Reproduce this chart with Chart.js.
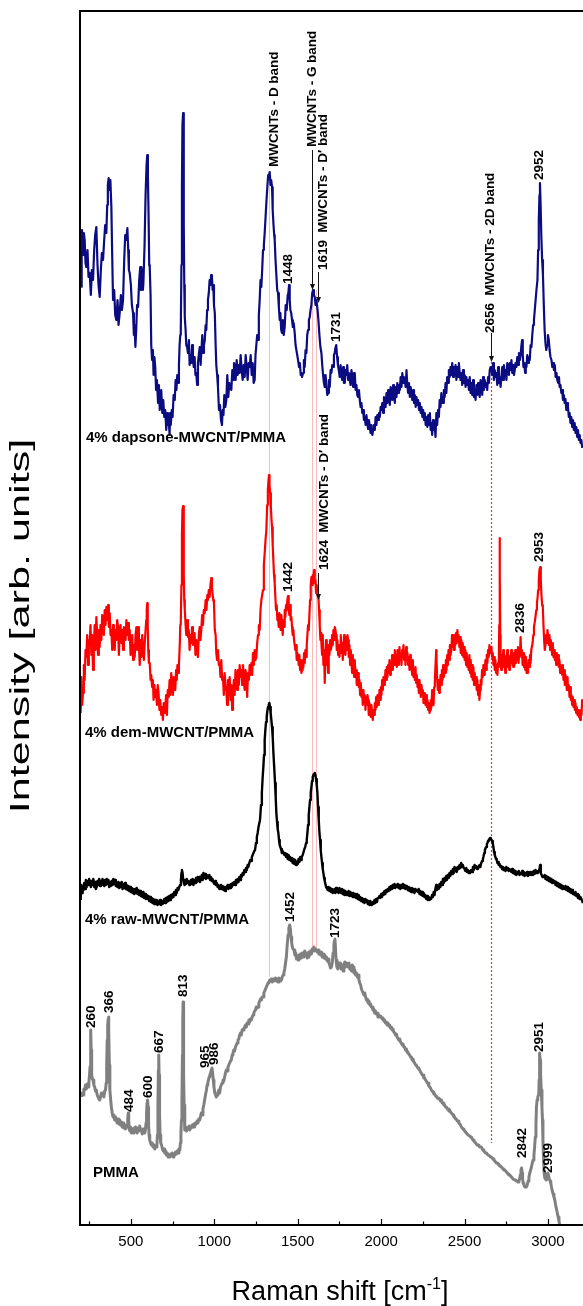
<!DOCTYPE html>
<html>
<head>
<meta charset="utf-8">
<script src="https://cdn.jsdelivr.net/npm/chart.js@4/dist/chart.umd.min.js"></script>
<style>
  html, body { margin: 0; padding: 0; background: #fff; overflow: hidden; }
  canvas { display: block; }
</style>
</head>
<body>
<canvas id="raman" width="583" height="1306"></canvas>
<script>
// Raman spectra, [shift in cm-1, intensity in arb. units]; traces are stacked with offsets.
const dapsoneSpectrum = [[203,938],[205,990],[207,995],[213,970],[218,992],[223,985],[228,962],[233,958],[240,975],[246,948],[253,952],[260,930],[266,955],[273,945],[280,975],[286,990],[293,998],[300,960],[306,940],[313,928],[320,955],[326,972],[333,965],[340,985],[346,1000],[353,992],[358,1020],[362,1040],[367,1047],[372,1035],[377,1045],[383,1018],[388,970],[393,925],[400,935],[406,910],[413,905],[420,925],[426,900],[433,912],[440,930],[446,915],[453,925],[460,965],[466,990],[472,985],[479,997],[484,975],[488,955],[493,952],[500,940],[506,920],[513,912],[518,890],[522,900],[527,878],[532,895],[537,920],[543,918],[550,945],[556,958],[560,935],[563,958],[568,950],[572,935],[575,942],[582,980],[588,1030],[594,1060],[598,1070],[602,1050],[606,1010],[610,960],[613,958],[618,930],[622,880],[627,865],[632,875],[636,850],[641,868],[646,858],[651,835],[656,845],[663,822],[668,840],[673,815],[678,828],[682,835],[688,812],[694,825],[700,808],[706,815],[712,795],[718,812],[722,800],[727,805],[732,790],[735,812],[739,800],[745,815],[750,808],[756,830],[763,825],[768,845],[773,835],[778,850],[783,842],[788,860],[792,880],[796,890],[799,892],[803,960],[806,1040],[809,1100],[813,1112],[816,1080],[818,1000],[820,940],[823,908],[828,895],[832,880],[837,878],[842,872],[848,885],[852,860],[857,870],[862,862],[867,880],[872,865],[877,858],[882,868],[887,850],[892,852],[897,840],[902,862],[907,870],[913,878],[918,860],[923,875],[928,890],[933,872],[938,880],[943,885],[948,900],[952,895],[957,915],[962,925],[967,932],[972,945],[977,940],[981,950],[986,948],[990,935],[994,940],[998,920],[1003,912],[1008,880],[1012,860],[1017,850],[1022,838],[1028,815],[1034,820],[1040,805],[1046,800],[1050,815],[1055,810],[1060,830],[1066,818],[1072,825],[1078,850],[1084,828],[1090,842],[1096,838],[1102,835],[1108,855],[1114,845],[1118,862],[1122,858],[1128,845],[1134,865],[1140,850],[1146,860],[1152,852],[1158,870],[1164,855],[1170,845],[1176,860],[1182,848],[1188,870],[1194,858],[1200,845],[1206,862],[1212,858],[1218,870],[1224,850],[1230,862],[1236,842],[1242,845],[1247,870],[1252,880],[1257,890],[1262,885],[1267,910],[1272,925],[1277,945],[1282,938],[1287,955],[1292,975],[1297,980],[1302,992],[1308,1010],[1313,1025],[1318,1038],[1323,1050],[1327,1048],[1332,1053],[1337,1040],[1341,1045],[1346,1038],[1350,1015],[1355,1000],[1359,990],[1362,985],[1367,965],[1372,950],[1377,935],[1382,932],[1387,918],[1392,905],[1396,912],[1401,895],[1406,892],[1411,905],[1416,890],[1422,898],[1428,920],[1434,915],[1440,930],[1444,932],[1448,940],[1452,925],[1456,915],[1461,912],[1466,905],[1471,898],[1476,902],[1482,892],[1487,880],[1492,875],[1497,870],[1502,865],[1508,858],[1513,862],[1518,850],[1522,852],[1526,848],[1532,852],[1537,865],[1542,858],[1547,875],[1552,872],[1557,890],[1562,895],[1567,905],[1572,908],[1577,915],[1582,920],[1587,932],[1592,935],[1597,930],[1602,928],[1607,920],[1612,925],[1619,915],[1624,905],[1630,890],[1636,878],[1642,872],[1647,860],[1652,850],[1657,842],[1662,838],[1667,850],[1672,840],[1677,830],[1682,832],[1687,845],[1692,838],[1697,855],[1702,852],[1707,860],[1712,858],[1717,870],[1722,872],[1726,877],[1731,880],[1736,868],[1741,860],[1746,855],[1752,848],[1757,860],[1762,850],[1767,845],[1772,858],[1777,842],[1782,842],[1787,855],[1792,850],[1797,860],[1802,845],[1807,852],[1812,845],[1817,840],[1822,855],[1827,848],[1832,838],[1837,852],[1842,852],[1847,835],[1852,840],[1857,830],[1862,828],[1867,835],[1872,825],[1877,818],[1882,822],[1887,812],[1892,815],[1897,805],[1902,808],[1907,800],[1912,810],[1917,802],[1922,796],[1927,805],[1932,798],[1937,792],[1942,800],[1947,790],[1952,795],[1957,800],[1962,795],[1967,808],[1972,800],[1977,810],[1982,805],[1987,812],[1992,808],[1997,818],[2002,815],[2007,822],[2012,812],[2017,828],[2022,825],[2027,818],[2032,832],[2037,822],[2042,835],[2047,828],[2052,820],[2057,838],[2062,832],[2067,825],[2072,840],[2077,830],[2082,822],[2087,838],[2092,828],[2097,842],[2102,832],[2107,840],[2112,835],[2117,848],[2122,838],[2127,852],[2132,842],[2137,848],[2142,845],[2147,838],[2152,855],[2157,840],[2162,832],[2167,842],[2172,828],[2177,838],[2182,832],[2187,825],[2192,835],[2197,822],[2202,830],[2207,818],[2212,828],[2217,820],[2222,825],[2227,815],[2232,822],[2237,812],[2242,818],[2247,808],[2252,815],[2257,805],[2262,812],[2267,800],[2272,808],[2277,798],[2282,810],[2287,800],[2292,812],[2297,795],[2301,802],[2306,790],[2311,805],[2316,795],[2322,798],[2326,788],[2331,812],[2336,800],[2341,815],[2346,808],[2351,825],[2356,818],[2361,832],[2366,822],[2371,822],[2376,835],[2381,828],[2386,842],[2391,832],[2396,848],[2401,842],[2406,855],[2411,848],[2416,858],[2421,850],[2426,862],[2431,848],[2436,858],[2441,852],[2446,860],[2451,845],[2456,858],[2461,848],[2466,862],[2471,852],[2476,845],[2481,852],[2486,840],[2491,855],[2496,842],[2501,850],[2506,838],[2511,848],[2516,840],[2521,845],[2526,835],[2531,848],[2536,832],[2541,842],[2546,830],[2551,845],[2556,828],[2561,835],[2566,825],[2571,840],[2576,830],[2581,842],[2586,835],[2591,828],[2596,845],[2601,838],[2606,830],[2611,848],[2616,835],[2621,845],[2626,838],[2631,842],[2636,835],[2641,848],[2646,842],[2651,855],[2656,858],[2661,858],[2666,850],[2671,862],[2676,845],[2681,855],[2686,848],[2691,852],[2696,840],[2701,858],[2706,842],[2711,848],[2716,838],[2721,848],[2726,858],[2731,845],[2736,860],[2741,850],[2746,855],[2751,845],[2756,862],[2761,858],[2766,850],[2771,862],[2776,855],[2781,865],[2786,852],[2791,860],[2796,850],[2801,855],[2806,862],[2811,858],[2816,868],[2821,860],[2826,872],[2831,865],[2836,870],[2840,878],[2845,885],[2849,870],[2853,858],[2858,862],[2863,852],[2867,862],[2871,858],[2876,870],[2881,862],[2886,868],[2891,865],[2896,880],[2901,878],[2906,890],[2911,900],[2916,905],[2921,915],[2926,925],[2931,935],[2937,945],[2941,975],[2945,1005],[2949,1030],[2952,1042],[2956,1020],[2960,990],[2965,965],[2970,950],[2975,920],[2980,895],[2985,882],[2990,875],[2995,880],[3000,890],[3005,885],[3010,875],[3015,868],[3021,865],[3026,858],[3031,862],[3036,855],[3041,860],[3046,848],[3051,852],[3056,845],[3061,842],[3066,848],[3070,838],[3075,840],[3080,832],[3085,835],[3090,825],[3095,830],[3100,822],[3105,826],[3110,815],[3115,822],[3120,818],[3125,808],[3130,812],[3135,802],[3140,808],[3145,798],[3150,805],[3155,795],[3160,802],[3165,792],[3170,798],[3175,788],[3180,795],[3185,785],[3190,790],[3195,782],[3200,785],[3205,778],[3210,780],[3215,775]];

const demSpectrum = [[199,512],[203,548],[208,520],[213,532],[218,560],[223,545],[228,575],[233,568],[238,590],[243,560],[248,585],[253,582],[258,600],[263,570],[268,590],[273,555],[278,580],[283,600],[288,575],[293,608],[298,590],[303,570],[308,595],[313,578],[318,600],[323,585],[328,610],[333,605],[338,590],[343,615],[348,600],[353,618],[358,605],[363,620],[368,598],[373,612],[378,590],[383,595],[388,575],[393,600],[398,580],[403,575],[408,595],[413,585],[418,605],[423,598],[428,570],[433,590],[438,600],[443,582],[448,595],[453,575],[458,598],[463,595],[468,585],[473,605],[478,590],[483,602],[488,585],[493,595],[498,570],[503,578],[508,590],[513,565],[518,580],[523,568],[528,590],[533,598],[538,575],[543,598],[548,580],[553,560],[558,585],[563,568],[568,590],[573,575],[578,565],[583,582],[588,595],[592,605],[595,615],[598,622],[601,600],[604,575],[608,562],[613,562],[618,545],[622,550],[627,538],[632,545],[636,525],[641,540],[646,528],[651,535],[656,520],[661,540],[666,532],[671,515],[676,525],[682,510],[687,518],[692,505],[697,522],[702,512],[706,517],[711,530],[716,510],[721,535],[727,528],[732,545],[737,530],[742,552],[747,542],[752,530],[757,548],[762,535],[766,535],[771,555],[775,545],[779,560],[783,552],[788,560],[793,580],[796,600],[799,602],[803,640],[806,690],[809,715],[813,719],[816,690],[818,650],[820,625],[823,615],[828,600],[832,590],[837,605],[842,588],[847,595],[852,575],[857,590],[862,582],[867,598],[872,580],[877,592],[882,592],[887,570],[892,585],[897,575],[902,568],[907,590],[912,598],[917,585],[922,595],[927,610],[932,600],[937,615],[943,612],[948,625],[953,615],[958,630],[962,625],[967,635],[972,628],[977,640],[982,647],[986,638],[990,630],[994,625],[998,622],[1003,595],[1008,590],[1012,572],[1017,565],[1022,575],[1027,560],[1032,562],[1037,548],[1042,565],[1047,545],[1052,548],[1057,530],[1062,552],[1067,540],[1072,535],[1077,520],[1082,545],[1087,530],[1092,548],[1097,525],[1102,540],[1107,515],[1112,528],[1117,545],[1122,530],[1127,555],[1132,548],[1137,535],[1142,555],[1147,540],[1152,560],[1157,548],[1162,555],[1167,540],[1172,560],[1177,545],[1182,535],[1187,555],[1192,548],[1197,528],[1202,552],[1207,545],[1212,560],[1217,550],[1222,562],[1227,550],[1232,572],[1237,560],[1242,575],[1247,565],[1252,568],[1257,582],[1262,590],[1267,600],[1272,595],[1277,615],[1282,625],[1287,630],[1292,635],[1297,660],[1302,672],[1307,685],[1312,695],[1317,720],[1321,735],[1325,745],[1328,750],[1331,740],[1335,732],[1339,718],[1343,705],[1346,698],[1350,680],[1354,665],[1358,650],[1362,642],[1366,628],[1370,615],[1374,620],[1378,605],[1382,608],[1386,598],[1390,612],[1394,600],[1398,595],[1402,610],[1406,602],[1410,590],[1414,605],[1418,598],[1422,615],[1426,608],[1430,620],[1434,615],[1438,625],[1442,629],[1446,615],[1450,610],[1454,620],[1458,605],[1462,608],[1466,598],[1470,590],[1474,595],[1478,585],[1482,585],[1486,575],[1490,580],[1494,565],[1498,572],[1502,568],[1506,560],[1510,570],[1514,555],[1518,565],[1522,552],[1526,555],[1530,565],[1534,558],[1538,572],[1542,562],[1546,575],[1550,568],[1554,580],[1558,590],[1562,600],[1566,595],[1570,610],[1574,625],[1578,640],[1582,648],[1586,640],[1590,650],[1594,645],[1598,655],[1602,642],[1606,645],[1610,632],[1614,640],[1619,630],[1624,628],[1628,615],[1632,600],[1636,585],[1640,592],[1642,582],[1646,570],[1650,590],[1654,560],[1658,575],[1662,542],[1666,570],[1670,585],[1674,560],[1678,575],[1682,552],[1686,580],[1690,570],[1694,585],[1698,575],[1702,578],[1706,590],[1710,580],[1714,595],[1718,585],[1722,598],[1726,595],[1730,590],[1734,575],[1738,585],[1742,570],[1746,580],[1750,568],[1754,575],[1758,590],[1762,572],[1766,582],[1770,565],[1774,578],[1778,590],[1782,578],[1786,570],[1790,588],[1794,575],[1798,590],[1802,585],[1806,568],[1810,580],[1814,560],[1818,575],[1822,565],[1826,552],[1830,570],[1834,560],[1838,548],[1842,565],[1846,550],[1850,555],[1854,540],[1858,552],[1862,552],[1866,538],[1870,545],[1874,530],[1878,542],[1882,528],[1886,535],[1890,520],[1894,535],[1898,525],[1902,530],[1906,515],[1910,528],[1914,520],[1918,530],[1922,525],[1926,510],[1930,522],[1934,515],[1938,508],[1942,520],[1946,512],[1950,505],[1954,515],[1958,510],[1962,522],[1966,515],[1970,528],[1974,518],[1978,530],[1982,525],[1986,520],[1990,535],[1994,525],[1998,538],[2002,530],[2006,545],[2010,535],[2014,548],[2018,540],[2022,542],[2026,555],[2030,545],[2034,558],[2038,548],[2042,560],[2046,552],[2050,565],[2054,550],[2058,562],[2062,558],[2066,570],[2070,555],[2074,568],[2078,560],[2082,575],[2086,562],[2090,570],[2094,558],[2098,575],[2102,568],[2106,560],[2110,578],[2114,565],[2118,572],[2122,560],[2126,575],[2130,568],[2134,580],[2138,565],[2142,572],[2146,560],[2150,578],[2154,565],[2158,572],[2162,560],[2166,568],[2170,555],[2174,570],[2178,558],[2182,558],[2186,550],[2190,565],[2194,548],[2198,555],[2202,545],[2206,558],[2210,542],[2214,550],[2218,538],[2222,545],[2226,532],[2230,545],[2234,535],[2238,528],[2242,540],[2246,530],[2250,535],[2254,522],[2258,532],[2262,528],[2266,520],[2270,530],[2274,518],[2278,525],[2282,515],[2286,522],[2290,512],[2294,515],[2298,525],[2302,518],[2306,535],[2310,528],[2314,520],[2318,538],[2322,545],[2326,560],[2330,575],[2332,565],[2336,545],[2340,535],[2344,545],[2348,532],[2352,538],[2356,550],[2360,540],[2364,555],[2368,545],[2372,560],[2376,548],[2380,555],[2384,552],[2388,565],[2392,555],[2396,570],[2400,560],[2404,575],[2408,565],[2412,580],[2416,570],[2421,575],[2425,590],[2429,578],[2433,588],[2437,575],[2441,590],[2445,580],[2449,592],[2453,582],[2457,595],[2461,585],[2465,590],[2469,578],[2473,588],[2477,572],[2481,585],[2485,570],[2489,582],[2493,568],[2497,578],[2501,565],[2505,575],[2509,560],[2513,572],[2517,558],[2521,562],[2525,555],[2529,570],[2533,552],[2537,565],[2541,548],[2545,560],[2549,545],[2553,558],[2557,540],[2561,552],[2565,540],[2569,548],[2573,535],[2577,545],[2581,530],[2585,540],[2589,525],[2593,535],[2597,545],[2601,540],[2605,555],[2609,548],[2613,560],[2617,550],[2621,552],[2625,565],[2629,555],[2633,570],[2637,562],[2641,575],[2645,568],[2649,580],[2653,572],[2657,575],[2661,578],[2665,568],[2669,572],[2673,560],[2677,568],[2681,555],[2685,565],[2689,552],[2693,560],[2697,550],[2701,562],[2705,558],[2708,600],[2710,687],[2712,650],[2714,590],[2716,565],[2720,555],[2724,570],[2728,560],[2732,575],[2736,558],[2740,570],[2744,552],[2748,568],[2752,560],[2756,575],[2760,558],[2764,570],[2768,555],[2772,568],[2776,560],[2780,575],[2784,562],[2788,570],[2792,558],[2796,572],[2800,560],[2804,575],[2808,562],[2812,572],[2816,565],[2820,578],[2824,562],[2828,575],[2832,570],[2836,588],[2840,568],[2844,575],[2848,560],[2852,572],[2856,558],[2860,570],[2864,555],[2868,568],[2872,552],[2876,560],[2880,552],[2884,565],[2888,558],[2892,570],[2896,562],[2900,575],[2904,575],[2908,582],[2912,590],[2916,598],[2920,602],[2925,608],[2930,615],[2934,622],[2938,628],[2941,635],[2945,645],[2949,655],[2953,658],[2957,645],[2961,630],[2965,620],[2969,618],[2973,600],[2977,585],[2981,575],[2985,580],[2989,590],[2993,582],[2997,595],[3001,588],[3005,580],[3009,590],[3013,575],[3017,585],[3021,578],[3025,570],[3029,582],[3033,568],[3037,575],[3041,565],[3045,572],[3049,560],[3053,572],[3057,565],[3061,570],[3065,558],[3069,565],[3073,552],[3077,560],[3081,558],[3085,550],[3089,560],[3093,545],[3097,555],[3101,540],[3105,550],[3109,545],[3113,535],[3117,548],[3121,535],[3125,540],[3129,528],[3133,538],[3137,525],[3141,530],[3145,520],[3149,528],[3153,518],[3157,525],[3161,515],[3165,522],[3169,512],[3173,518],[3177,510],[3181,515],[3185,508],[3189,512],[3193,505],[3197,515],[3201,510],[3205,525],[3210,525]];

const rawSpectrum = [[199,325],[203,340],[207,332],[211,338],[215,335],[220,342],[225,336],[230,345],[235,338],[240,344],[245,340],[250,346],[255,342],[260,338],[265,344],[270,340],[275,346],[280,338],[285,343],[290,336],[295,338],[300,344],[305,340],[310,346],[315,339],[320,344],[325,340],[330,346],[335,343],[340,339],[345,345],[350,340],[355,346],[360,341],[365,345],[370,338],[375,343],[380,339],[385,344],[390,340],[395,346],[400,341],[405,345],[410,339],[415,342],[420,338],[425,343],[430,337],[435,342],[440,338],[445,343],[450,336],[455,341],[460,337],[465,342],[470,336],[475,340],[480,335],[485,339],[490,334],[495,338],[500,333],[505,337],[510,332],[515,336],[520,331],[525,336],[530,332],[535,337],[540,331],[545,335],[550,330],[555,334],[560,329],[565,333],[570,328],[575,333],[580,327],[585,331],[590,326],[595,330],[600,326],[605,329],[610,324],[615,328],[620,323],[625,327],[630,322],[635,326],[640,321],[645,325],[650,321],[655,325],[660,320],[665,324],[670,321],[675,325],[680,320],[685,324],[690,321],[694,323],[700,326],[705,322],[710,327],[715,323],[720,328],[725,324],[730,329],[735,325],[740,330],[745,327],[750,331],[755,328],[760,333],[765,330],[770,335],[775,332],[780,337],[784,335],[790,338],[795,340],[800,345],[803,352],[806,355],[810,352],[814,345],[818,342],[822,340],[826,345],[830,341],[835,346],[840,342],[845,344],[850,340],[854,342],[860,345],[865,341],[870,346],[875,340],[880,345],[885,342],[890,347],[895,343],[900,348],[905,344],[910,348],[914,343],[920,346],[925,350],[930,345],[935,352],[940,347],[945,351],[950,346],[955,350],[960,348],[964,347],[970,350],[975,345],[980,348],[985,344],[990,346],[994,343],[1000,341],[1005,344],[1010,340],[1015,342],[1020,338],[1025,340],[1030,336],[1034,337],[1040,340],[1045,336],[1050,339],[1055,335],[1060,338],[1065,334],[1070,338],[1074,337],[1080,340],[1085,336],[1090,340],[1095,337],[1100,341],[1105,338],[1110,342],[1114,340],[1120,343],[1125,340],[1130,345],[1135,342],[1140,346],[1145,343],[1150,348],[1155,345],[1160,350],[1164,348],[1170,352],[1175,350],[1180,355],[1185,353],[1190,357],[1195,355],[1200,360],[1204,358],[1210,362],[1215,365],[1220,364],[1225,368],[1230,370],[1235,372],[1240,374],[1244,375],[1250,382],[1255,388],[1260,392],[1265,398],[1270,402],[1274,405],[1280,420],[1285,432],[1290,448],[1294,458],[1298,470],[1302,485],[1306,495],[1310,503],[1314,508],[1318,514],[1322,518],[1326,520],[1330,522],[1334,518],[1338,512],[1342,505],[1346,498],[1350,488],[1355,470],[1360,455],[1364,442],[1368,428],[1372,412],[1376,403],[1380,396],[1384,392],[1388,385],[1392,380],[1396,378],[1400,376],[1405,372],[1410,374],[1414,372],[1420,370],[1425,372],[1430,368],[1435,371],[1440,366],[1445,370],[1450,365],[1454,368],[1460,364],[1465,367],[1470,362],[1475,366],[1480,361],[1485,365],[1490,360],[1494,363],[1500,361],[1505,366],[1510,363],[1515,368],[1520,365],[1524,368],[1530,370],[1535,373],[1540,376],[1545,378],[1550,382],[1554,385],[1558,392],[1562,400],[1566,410],[1570,418],[1574,425],[1578,432],[1582,438],[1586,444],[1590,448],[1594,450],[1598,451],[1602,452],[1606,450],[1610,446],[1614,440],[1618,432],[1622,418],[1626,405],[1630,393],[1634,385],[1638,375],[1642,368],[1646,362],[1650,356],[1654,352],[1658,347],[1662,344],[1666,341],[1670,338],[1674,337],[1680,335],[1685,338],[1690,334],[1695,337],[1700,333],[1705,336],[1710,332],[1714,333],[1720,336],[1725,332],[1730,337],[1735,333],[1740,336],[1745,332],[1750,337],[1754,335],[1760,332],[1765,336],[1770,331],[1775,335],[1780,330],[1785,334],[1790,330],[1794,333],[1800,330],[1805,334],[1810,329],[1815,333],[1820,329],[1825,332],[1830,328],[1834,332],[1840,328],[1845,331],[1850,327],[1855,331],[1860,326],[1865,330],[1870,325],[1874,328],[1880,324],[1885,327],[1890,323],[1895,326],[1900,322],[1905,326],[1910,323],[1914,325],[1920,321],[1925,324],[1930,320],[1935,324],[1940,320],[1944,322],[1950,323],[1955,321],[1960,325],[1965,322],[1970,326],[1975,323],[1980,327],[1984,327],[1990,329],[1995,327],[2000,331],[2005,328],[2010,332],[2015,330],[2020,334],[2025,331],[2030,335],[2034,333],[2040,336],[2045,334],[2050,338],[2055,335],[2060,339],[2065,336],[2070,340],[2075,337],[2080,341],[2085,337],[2090,340],[2094,338],[2100,341],[2105,337],[2110,340],[2115,336],[2120,340],[2125,337],[2130,341],[2135,337],[2140,340],[2145,336],[2150,339],[2154,338],[2160,335],[2165,338],[2170,334],[2175,337],[2180,333],[2185,337],[2190,333],[2195,336],[2200,332],[2205,336],[2210,334],[2214,335],[2220,333],[2225,336],[2230,331],[2235,334],[2240,330],[2245,333],[2250,329],[2255,332],[2260,328],[2264,330],[2270,326],[2275,329],[2280,325],[2285,328],[2290,325],[2294,327],[2300,326],[2305,330],[2310,328],[2315,333],[2320,330],[2325,336],[2330,340],[2334,335],[2340,338],[2345,336],[2350,341],[2355,338],[2360,343],[2365,340],[2370,346],[2375,342],[2380,347],[2385,344],[2390,349],[2394,345],[2400,350],[2405,347],[2410,352],[2415,349],[2420,354],[2425,351],[2430,356],[2435,352],[2440,358],[2445,354],[2450,357],[2453,353],[2460,358],[2465,356],[2470,360],[2475,357],[2480,362],[2485,358],[2490,360],[2493,358],[2500,356],[2505,354],[2510,357],[2515,353],[2520,355],[2525,352],[2530,354],[2533,352],[2540,355],[2545,353],[2550,358],[2555,355],[2560,360],[2565,357],[2570,359],[2575,356],[2580,358],[2583,357],[2590,360],[2595,358],[2600,362],[2605,364],[2610,366],[2613,368],[2618,372],[2622,375],[2626,377],[2630,378],[2634,381],[2637,382],[2641,384],[2645,385],[2649,386],[2653,387],[2657,386],[2661,385],[2665,384],[2669,382],[2673,378],[2677,373],[2681,370],[2685,368],[2689,366],[2693,365],[2697,362],[2701,363],[2705,360],[2710,361],[2715,358],[2720,359],[2725,356],[2730,358],[2733,355],[2740,357],[2745,354],[2750,358],[2755,355],[2760,357],[2765,354],[2770,356],[2773,355],[2780,353],[2785,356],[2790,352],[2795,355],[2800,351],[2805,354],[2810,350],[2815,353],[2820,351],[2825,354],[2830,350],[2833,352],[2840,351],[2845,354],[2850,350],[2855,353],[2860,349],[2865,352],[2870,350],[2875,353],[2880,349],[2885,352],[2890,350],[2893,353],[2900,350],[2905,353],[2910,350],[2915,354],[2920,351],[2925,355],[2930,352],[2935,354],[2940,352],[2945,354],[2950,357],[2953,360],[2957,352],[2962,350],[2967,348],[2973,348],[2980,350],[2985,346],[2990,349],[2995,345],[3000,348],[3005,344],[3010,347],[3015,343],[3020,346],[3025,342],[3030,345],[3033,343],[3040,344],[3045,340],[3050,343],[3055,339],[3060,342],[3065,338],[3070,341],[3075,337],[3080,340],[3085,336],[3090,339],[3093,338],[3100,336],[3105,339],[3110,335],[3115,338],[3120,334],[3125,337],[3130,333],[3135,336],[3140,332],[3145,335],[3150,331],[3153,332],[3160,330],[3165,333],[3170,329],[3175,331],[3180,327],[3185,330],[3190,326],[3195,328],[3203,325],[3210,322]];

const pmmaSpectrum = [[203,128],[208,132],[213,130],[218,136],[223,135],[228,140],[233,136],[238,141],[243,138],[248,142],[252,150],[255,158],[258,180],[260,195],[262,175],[265,150],[269,146],[273,145],[278,140],[283,138],[288,134],[293,135],[298,130],[303,128],[308,126],[313,125],[318,128],[323,132],[328,130],[333,132],[338,128],[343,134],[348,135],[352,142],[355,160],[358,185],[361,200],[364,206],[366,208],[368,195],[371,160],[374,135],[379,125],[383,118],[388,112],[393,108],[398,110],[403,105],[408,108],[413,105],[418,102],[423,106],[428,101],[433,105],[438,100],[443,103],[448,98],[453,102],[458,97],[463,100],[468,96],[473,98],[478,100],[481,106],[484,112],[487,104],[490,96],[494,94],[498,98],[503,92],[508,96],[513,92],[518,97],[523,93],[528,98],[533,95],[538,92],[543,97],[548,94],[553,99],[558,95],[563,95],[568,91],[573,96],[578,93],[583,92],[587,95],[591,102],[594,112],[597,122],[600,125],[603,118],[606,100],[609,90],[613,85],[618,82],[623,80],[628,82],[633,78],[638,80],[643,76],[648,79],[652,78],[656,80],[659,90],[662,120],[665,155],[667,170],[669,150],[672,110],[675,90],[679,82],[684,80],[689,76],[694,74],[699,76],[703,72],[708,74],[713,70],[718,72],[723,68],[728,70],[733,68],[738,71],[743,69],[748,72],[753,68],[758,71],[763,70],[768,73],[773,71],[778,74],[783,72],[788,76],[793,75],[797,82],[800,92],[803,105],[806,125],[809,170],[811,205],[813,223],[815,200],[817,150],[819,120],[823,95],[828,98],[833,94],[838,97],[843,96],[848,99],[852,95],[857,98],[862,97],[867,100],[872,98],[877,101],[882,98],[887,102],[892,101],[897,104],[902,102],[907,106],[912,105],[917,108],[922,112],[927,110],[932,116],[937,120],[942,125],[947,130],[952,134],[957,140],[961,142],[965,145],[969,148],[973,150],[978,152],[982,155],[986,157],[990,152],[994,145],[998,138],[1003,132],[1008,130],[1012,128],[1017,130],[1022,132],[1027,135],[1032,132],[1037,138],[1042,140],[1047,142],[1052,145],[1057,144],[1062,148],[1067,152],[1072,155],[1077,154],[1082,158],[1087,160],[1092,162],[1097,164],[1102,165],[1107,170],[1112,172],[1117,175],[1122,174],[1127,178],[1132,180],[1137,182],[1142,185],[1147,186],[1152,190],[1157,192],[1162,190],[1167,195],[1172,196],[1177,195],[1182,198],[1187,200],[1192,198],[1197,202],[1202,201],[1207,205],[1212,203],[1217,206],[1222,205],[1227,208],[1232,210],[1237,212],[1242,214],[1247,215],[1252,218],[1257,217],[1262,218],[1267,222],[1272,224],[1277,226],[1282,225],[1287,228],[1292,228],[1297,232],[1302,234],[1307,236],[1312,238],[1317,240],[1322,242],[1327,243],[1332,245],[1337,244],[1342,246],[1347,243],[1352,246],[1357,244],[1362,245],[1367,247],[1372,244],[1377,246],[1382,243],[1387,247],[1392,245],[1397,244],[1402,245],[1407,248],[1412,250],[1417,252],[1422,256],[1427,262],[1432,268],[1437,280],[1442,290],[1447,297],[1452,300],[1456,296],[1460,288],[1464,282],[1468,278],[1472,276],[1478,275],[1483,270],[1488,272],[1493,266],[1498,268],[1502,265],[1507,270],[1512,266],[1517,271],[1522,267],[1527,272],[1532,268],[1537,270],[1542,274],[1547,270],[1552,272],[1557,267],[1562,268],[1567,273],[1572,270],[1577,274],[1582,271],[1587,276],[1592,274],[1597,278],[1602,275],[1607,276],[1612,274],[1617,273],[1622,275],[1627,271],[1632,272],[1637,270],[1642,273],[1647,268],[1652,271],[1657,267],[1662,270],[1667,266],[1672,268],[1677,264],[1682,266],[1687,262],[1692,260],[1697,257],[1702,258],[1707,262],[1712,272],[1717,280],[1720,284],[1723,286],[1726,278],[1730,265],[1735,258],[1741,256],[1746,262],[1751,258],[1756,262],[1761,256],[1766,260],[1772,254],[1777,260],[1782,263],[1787,258],[1792,262],[1797,260],[1802,258],[1807,262],[1812,256],[1817,258],[1822,254],[1827,260],[1832,258],[1837,252],[1842,255],[1847,250],[1852,252],[1857,248],[1862,250],[1867,245],[1872,242],[1877,240],[1882,236],[1887,234],[1892,232],[1897,230],[1902,232],[1907,228],[1912,225],[1917,226],[1922,222],[1927,224],[1932,220],[1937,221],[1941,218],[1946,218],[1951,215],[1956,216],[1961,212],[1966,214],[1971,211],[1976,212],[1981,208],[1986,210],[1991,208],[1996,209],[2001,208],[2006,206],[2011,207],[2016,204],[2021,205],[2026,202],[2031,203],[2036,200],[2041,202],[2046,199],[2051,200],[2056,197],[2061,198],[2066,195],[2071,196],[2076,193],[2081,192],[2086,190],[2091,191],[2096,188],[2101,188],[2106,185],[2111,186],[2116,183],[2121,182],[2126,180],[2131,181],[2136,178],[2141,178],[2146,175],[2151,176],[2156,173],[2161,172],[2166,171],[2171,170],[2176,168],[2181,168],[2186,165],[2191,166],[2196,163],[2201,162],[2206,160],[2211,160],[2216,158],[2221,157],[2226,156],[2231,155],[2236,153],[2241,152],[2246,150],[2251,150],[2256,147],[2261,147],[2266,145],[2271,144],[2276,142],[2281,142],[2286,139],[2291,138],[2296,137],[2301,135],[2306,134],[2311,133],[2316,131],[2321,131],[2326,129],[2331,129],[2336,127],[2341,127],[2346,126],[2351,126],[2356,124],[2361,125],[2366,122],[2371,122],[2376,120],[2381,120],[2386,118],[2391,118],[2396,116],[2401,116],[2406,114],[2411,115],[2416,113],[2421,112],[2426,111],[2431,110],[2436,108],[2441,108],[2446,106],[2451,106],[2456,104],[2461,104],[2466,102],[2471,101],[2476,100],[2481,98],[2486,97],[2491,96],[2496,95],[2501,94],[2506,93],[2511,92],[2516,91],[2521,90],[2526,90],[2531,89],[2536,88],[2541,88],[2546,86],[2551,85],[2556,84],[2561,83],[2566,82],[2571,81],[2576,80],[2581,80],[2586,79],[2591,78],[2596,78],[2601,78],[2606,76],[2611,75],[2616,74],[2621,73],[2626,72],[2631,72],[2636,71],[2641,70],[2646,70],[2651,69],[2656,68],[2661,68],[2666,67],[2671,66],[2676,65],[2681,64],[2686,63],[2691,62],[2696,62],[2701,61],[2706,60],[2711,59],[2716,59],[2721,58],[2726,57],[2731,56],[2736,55],[2741,55],[2746,54],[2751,53],[2756,52],[2761,51],[2766,50],[2771,50],[2776,49],[2781,48],[2786,47],[2791,46],[2796,46],[2801,45],[2806,45],[2811,44],[2816,44],[2821,43],[2826,44],[2830,46],[2834,50],[2838,55],[2842,57],[2845,52],[2848,46],[2851,42],[2856,40],[2861,38],[2866,38],[2871,38],[2876,40],[2881,44],[2886,48],[2891,52],[2896,55],[2901,58],[2906,62],[2911,65],[2916,70],[2920,78],[2924,88],[2928,100],[2931,118],[2935,125],[2939,128],[2943,130],[2945,132],[2947,145],[2949,160],[2951,172],[2953,165],[2956,150],[2960,135],[2964,118],[2967,105],[2970,85],[2973,68],[2977,52],[2981,47],[2985,46],[2990,45],[2995,48],[2999,52],[3003,50],[3008,46],[3013,44],[3017,42],[3021,38],[3026,34],[3031,31],[3036,28],[3041,25],[3046,20],[3051,16],[3056,12],[3061,8],[3066,4],[3070,0]];

// axis ticks (cm-1)
const xMajorTicks = [500, 1000, 1500, 2000, 2500, 3000];
const xMinorTicks = [250, 750, 1250, 1750, 2250, 2750];

// band positions marked with guide lines (cm-1)
const bandLines = [1330, 1584, 1610];
const band2D = 2656;

const seriesNames = ['4% dapsone-MWCNT/PMMA', '4% dem-MWCNT/PMMA', '4% raw-MWCNT/PMMA', 'PMMA'];
const seriesColors = ['#0c0c82', '#ff0000', '#000000', '#808080'];

// rotated peak labels: text, anchor shift, anchor intensity (bottom of text), pixel nudge
const peakLabels = [
  ['MWCNTs - D band', 1364, 1058, 0],
  ['1448', 1448, 941, 0],
  ['MWCNTs - G band', 1589, 1078, 0],
  ['1619  MWCNTs - D\u2032 band', 1658, 955, 0],
  ['1731', 1731, 883, 0],
  ['2656  MWCNTs - 2D band', 2656, 892, 0],
  ['2952', 2952, 1045, 0],
  ['1442', 1442, 633, 1],
  ['1624  MWCNTs - D\u2032 band', 1664, 655, 0],
  ['2836', 2836, 592, 0],
  ['2953', 2953, 663, 0],
  ['1452', 1452, 303, 1],
  ['1723', 1723, 287, 1],
  ['260', 260, 197, 1],
  ['366', 366, 212, 1],
  ['484', 484, 113, 1],
  ['600', 600, 127, 1],
  ['667', 667, 172, 1],
  ['813', 813, 228, 1],
  ['965', 965, 157, -3],
  ['986', 986, 160, 3],
  ['2842', 2842, 67, 1],
  ['2951', 2951, 173, 0],
  ['2999', 2999, 52, 1]
];

// arrows: shift, from intensity, to intensity
const arrows = [
  [1584, 1075, 935],
  [1619, 953, 922],
  [2656, 892, 863],
  [1624, 652, 625]
];

// sample name placement: shift of left edge, intensity of text middle
const nameAnchors = [[231, 787], [225, 492], [225, 305], [273, 52]];

const FONT = '"Liberation Sans", Arial, Helvetica, sans-serif';

function toPoints(arr) { return arr.map(p => ({ x: p[0], y: p[1] })); }

const spectra = [dapsoneSpectrum, demSpectrum, rawSpectrum, pmmaSpectrum];
const widths = [2.2, 2.2, 2.4, 3];

// rotated text, stretched along its own direction
function verticalText(ctx, text, x, y, stretch, align) {
  ctx.save();
  ctx.translate(x, y);
  ctx.rotate(-Math.PI / 2);
  ctx.scale(stretch, 1);
  ctx.textAlign = align;
  ctx.fillText(text, 0, 0);
  ctx.restore();
}

const decorations = {
  id: 'decorations',
  beforeDraw(chart) {
    const ctx = chart.ctx;
    ctx.save();
    ctx.fillStyle = '#fff';
    ctx.fillRect(0, 0, chart.width, chart.height);
    ctx.restore();
  },
  beforeDatasetsDraw(chart) {
    const ctx = chart.ctx, xs = chart.scales.x, ys = chart.scales.y;
    ctx.save();
    // faint guide lines for the D and G bands
    ctx.strokeStyle = 'rgba(245,160,160,0.7)';
    ctx.lineWidth = 1;
    const spans = [[1052, 248], [935, 275], [935, 275]];
    bandLines.forEach((b, i) => {
      const px = Math.round(xs.getPixelForValue(b)) + 0.5;
      ctx.beginPath();
      ctx.moveTo(px, ys.getPixelForValue(spans[i][0]));
      ctx.lineTo(px, ys.getPixelForValue(spans[i][1]));
      ctx.stroke();
    });
    // dotted guide for the 2D band
    ctx.strokeStyle = '#f03040';
    ctx.lineWidth = 1.2;
    ctx.setLineDash([2, 2]);
    const p2 = Math.round(xs.getPixelForValue(band2D)) + 0.5;
    ctx.beginPath();
    ctx.moveTo(p2, ys.getPixelForValue(863));
    ctx.lineTo(p2, ys.getPixelForValue(82));
    ctx.stroke();
    ctx.restore();
  },
  afterDraw(chart) {
    const ctx = chart.ctx, xs = chart.scales.x, ys = chart.scales.y, a = chart.chartArea;
    ctx.save();
    // frame
    ctx.strokeStyle = '#000';
    ctx.lineWidth = 2;
    ctx.beginPath();
    ctx.moveTo(chart.width + 2, a.top);
    ctx.lineTo(a.left, a.top);
    ctx.lineTo(a.left, a.bottom);
    ctx.lineTo(chart.width + 2, a.bottom);
    ctx.stroke();
    // inward ticks
    ctx.lineWidth = 1.2;
    const tick = (v, len) => {
      const px = Math.round(xs.getPixelForValue(v)) + 0.5;
      ctx.beginPath();
      ctx.moveTo(px, a.bottom);
      ctx.lineTo(px, a.bottom - len);
      ctx.stroke();
    };
    xMajorTicks.forEach(v => tick(v, 6));
    xMinorTicks.forEach(v => tick(v, 3.5));

    // arrows
    ctx.fillStyle = '#111';
    ctx.strokeStyle = '#111';
    ctx.lineWidth = 1;
    arrows.forEach(([x, y0, y1]) => {
      const px = Math.round(xs.getPixelForValue(x)) + 0.5;
      const a0 = ys.getPixelForValue(y0), a1 = ys.getPixelForValue(y1);
      ctx.beginPath();
      ctx.moveTo(px, a0);
      ctx.lineTo(px, a1 - 5);
      ctx.stroke();
      ctx.beginPath();
      ctx.moveTo(px - 2.5, a1 - 6);
      ctx.lineTo(px + 2.5, a1 - 6);
      ctx.lineTo(px, a1);
      ctx.closePath();
      ctx.fill();
    });

    // rotated peak labels
    ctx.fillStyle = '#000';
    ctx.font = 'bold 12px ' + FONT;
    ctx.textBaseline = 'middle';
    peakLabels.forEach(([t, x, y, dx]) => {
      verticalText(ctx, t, xs.getPixelForValue(x) + dx, ys.getPixelForValue(y), 1.12, 'left');
    });

    // sample names
    ctx.textAlign = 'left';
    ctx.font = 'bold 15px ' + FONT;
    seriesNames.forEach((n, i) => {
      ctx.fillText(n, xs.getPixelForValue(nameAnchors[i][0]), ys.getPixelForValue(nameAnchors[i][1]));
    });

    // axis titles
    ctx.font = '27px ' + FONT;
    ctx.textBaseline = 'alphabetic';
    const main = 'Raman shift [cm', sup = '-1', close = ']';
    const wMain = ctx.measureText(main).width;
    const wClose = ctx.measureText(close).width;
    ctx.font = '16px ' + FONT;
    const wSup = ctx.measureText(sup).width;
    const total = wMain + wSup + wClose;
    const x0 = 340 - total / 2;
    const base = 1300;
    ctx.font = '27px ' + FONT;
    ctx.fillText(main, x0, base);
    ctx.font = '16px ' + FONT;
    ctx.fillText(sup, x0 + wMain, base - 11);
    ctx.font = '27px ' + FONT;
    ctx.fillText(close, x0 + wMain + wSup, base);

    verticalText(ctx, 'Intensity [arb. units]', 29, 626, 1.6, 'center');
    ctx.restore();
  }
};

new Chart(document.getElementById('raman'), {
  type: 'line',
  data: {
    datasets: spectra.map((s, i) => ({
      label: seriesNames[i],
      data: toPoints(s),
      borderColor: seriesColors[i],
      borderWidth: widths[i],
      pointRadius: 0,
      tension: 0,
      fill: false,
      borderJoinStyle: 'round'
    }))
  },
  options: {
    responsive: false,
    maintainAspectRatio: false,
    animation: false,
    layout: { padding: { left: 80, top: 11, right: 0, bottom: 0 } },
    plugins: { legend: { display: false }, tooltip: { enabled: false } },
    scales: {
      x: {
        type: 'linear',
        min: 195,
        max: 3210,
        grid: { display: false, drawTicks: false },
        border: { display: false },
        ticks: {
          font: { size: 15, family: FONT }, color: '#000', padding: 8, maxRotation: 0, autoSkip: false,
          callback: v => String(v)
        },
        afterBuildTicks: s => { s.ticks = xMajorTicks.map(v => ({ value: v })); },
        afterFit: s => { s.height = 81; }
      },
      y: { type: 'linear', min: 0, max: 1214, display: false }
    }
  },
  plugins: [decorations]
});
</script>
</body>
</html>
